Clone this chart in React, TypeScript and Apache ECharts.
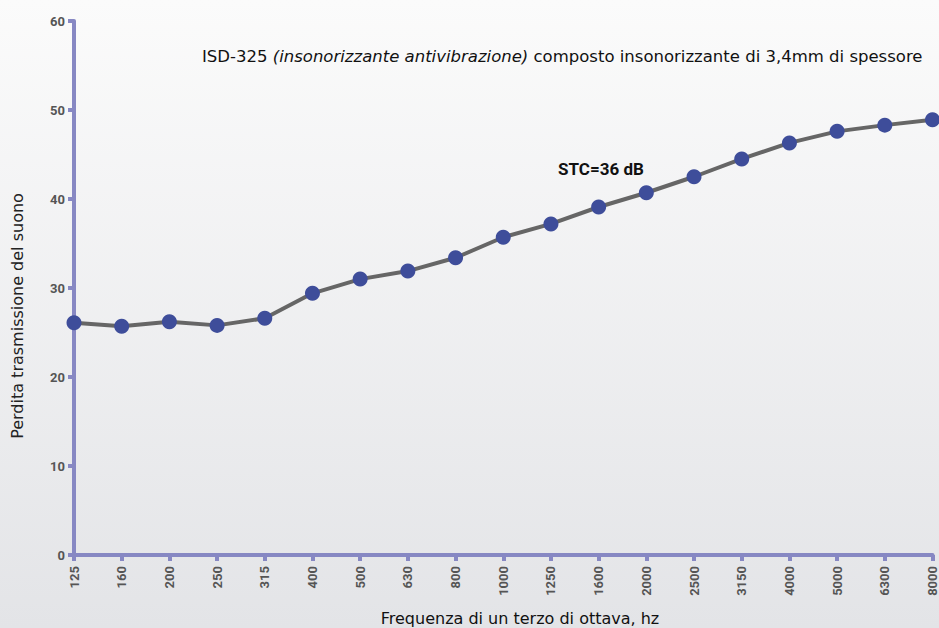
import React, { useEffect, useRef } from "react";
import * as echarts from "echarts";

const categories = ["125","160","200","250","315","400","500","630","800","1000","1250","1600","2000","2500","3150","4000","5000","6300","8000"];
const values = [26.1,25.7,26.2,25.8,26.6,29.4,31.0,31.9,33.4,35.7,37.2,39.1,40.7,42.5,44.5,46.3,47.6,48.3,48.9];
const yTicks = { min: 0, max: 60, interval: 10 };
const titleMain = "ISD-325 ";
const titleItalic = "(insonorizzante antivibrazione)";
const titleRest = " composto insonorizzante di 3,4mm di spessore";
const stcLabel = "STC=36 dB";
const yTitle = "Perdita trasmissione del suono";
const xTitle = "Frequenza di un terzo di ottava, hz";

export default function App() {
  const ref = useRef<HTMLDivElement>(null);
  useEffect(() => {
    if (!ref.current) return;
    const chart = echarts.init(ref.current, null, { renderer: "svg" });
    const axisColor = "#8788c3";
    chart.setOption({
      animation: false,
      backgroundColor: {
        type: "linear", x: 0, y: 0, x2: 0, y2: 1,
        colorStops: [{ offset: 0, color: "#fbfbfb" }, { offset: 1, color: "#e3e4e7" }],
      },
      grid: { left: 74, right: 6, top: 21, bottom: 73, containLabel: false },
      xAxis: {
        type: "category",
        data: categories,
        boundaryGap: false,
        axisLine: { lineStyle: { color: axisColor, width: 4 } },
        axisTick: { alignWithLabel: true, length: 6, lineStyle: { color: axisColor, width: 4 } },
        axisLabel: {
          rotate: 90, interval: 0, color: "#555", fontWeight: "bold",
          fontFamily: "Roboto", fontSize: 13, margin: 11,
        },
        splitLine: { show: false },
      },
      yAxis: {
        type: "value",
        min: yTicks.min, max: yTicks.max, interval: yTicks.interval,
        axisLine: { show: true, lineStyle: { color: axisColor, width: 4 } },
        axisTick: { show: true, length: 6, lineStyle: { color: axisColor, width: 4 } },
        axisLabel: { color: "#555", fontWeight: "bold", fontFamily: "Roboto", fontSize: 13, margin: 9 },
        splitLine: { show: false },
      },
      graphic: [
        {
          type: "text", x: 202, y: 56,
          style: {
            verticalAlign: "middle",
            rich: {
              a: { fontFamily: "DejaVu Sans", fontSize: 16.5, fill: "#111" },
              b: { fontFamily: "DejaVu Sans", fontSize: 16.5, fill: "#111", fontStyle: "italic" },
            },
            text: `{a|${titleMain}}{b|${titleItalic}}{a|${titleRest}}`,
          },
        },
        {
          type: "text", x: 558, y: 169,
          style: {
            text: stcLabel, fontFamily: "Roboto", fontWeight: "bold", fontSize: 17, fill: "#111",
            verticalAlign: "middle",
          },
        },
        {
          type: "text", x: 17, y: 316, rotation: Math.PI / 2,
          style: {
            text: yTitle, fontFamily: "DejaVu Sans", fontSize: 16, fill: "#222",
            align: "center", verticalAlign: "middle",
          },
        },
        {
          type: "text", x: 520, y: 618,
          style: {
            text: xTitle, fontFamily: "DejaVu Sans", fontSize: 16, fill: "#111",
            align: "center", verticalAlign: "middle",
          },
        },
      ],
      series: [
        {
          type: "line",
          data: values,
          symbol: "circle",
          symbolSize: 15,
          lineStyle: { color: "#666", width: 4 },
          itemStyle: { color: "#3e4d9a" },
        },
      ],
    });
    return () => chart.dispose();
  }, []);
  return <div ref={ref} style={{ position: "absolute", left: 0, top: 0, width: 939, height: 628 }} />;
}
